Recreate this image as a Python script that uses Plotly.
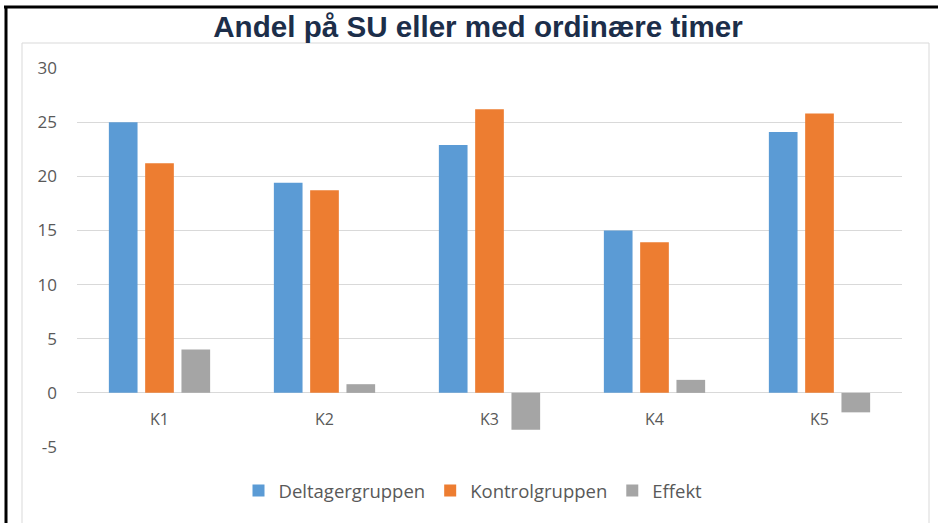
import plotly.graph_objects as go

categories = ["K1", "K2", "K3", "K4", "K5"]
deltager = [25.0, 19.4, 22.9, 15.0, 24.1]
kontrol = [21.2, 18.7, 26.2, 13.9, 25.8]
effekt = [4.0, 0.8, -3.4, 1.2, -1.8]
series_names = ["Deltagergruppen", "Kontrolgruppen", "Effekt"]
ytick_vals = [-5, 0, 5, 10, 15, 20, 25, 30]
ytick_text = ["-5", "0", "5", "10", "15", "20", "25", "30"]
title_text = "Andel på SU eller med ordinære timer"

W, H = 938, 523
L, R, T, B = 77, 36, 68, 76
PW, PH = W - L - R, H - T - B

def px(x):
    return (x - L) / PW

def py(y):
    return (H - B - y) / PH

colors = ["#5B9BD5", "#ED7D31", "#A5A5A5"]
font_fam = "Open Sans, Lato, sans-serif"
txt_col = "#595959"

fig = go.Figure()
for name, vals, col in zip(series_names, [deltager, kontrol, effekt], colors):
    fig.add_trace(go.Bar(x=categories, y=vals, name=name, marker=dict(color=col, line=dict(width=0))))

annotations = []
for c in categories:
    annotations.append(dict(x=c, y=0, xref="x", yref="y", text=c, showarrow=False,
                            yanchor="top", yshift=-13,
                            font=dict(family=font_fam, size=16, color=txt_col)))

shapes = [
    dict(type="rect", xref="paper", yref="paper", x0=px(22), x1=px(929), y0=py(530), y1=py(43),
         line=dict(color="#D9D9D9", width=1), fillcolor="rgba(0,0,0,0)", layer="below"),
    dict(type="line", xref="paper", yref="paper", x0=px(4), x1=px(940), y0=py(7), y1=py(7),
         line=dict(color="black", width=3)),
    dict(type="line", xref="paper", yref="paper", x0=px(6), x1=px(6), y0=py(6), y1=py(530),
         line=dict(color="black", width=3)),
]

fig.update_layout(
    width=W, height=H,
    margin=dict(l=L, r=R, t=T, b=B, pad=0),
    paper_bgcolor="white", plot_bgcolor="white",
    barmode="group", bargap=0.34, bargroupgap=0.21,
    title=dict(text="<b>" + title_text + "</b>", xref="container", yref="container",
               x=0.5096, y=1 - 27 / H, xanchor="center", yanchor="middle",
               font=dict(family="Liberation Sans, Arial, sans-serif", size=29.6, color="#1C2E4A")),
    xaxis=dict(showticklabels=False, showgrid=False, zeroline=False, showline=False, ticks=""),
    yaxis=dict(range=[-5, 30], tickvals=ytick_vals, ticktext=ytick_text,
               showgrid=True, gridcolor="#D9D9D9", gridwidth=1,
               zeroline=True, zerolinecolor="#D9D9D9", zerolinewidth=1,
               showline=False, ticks="", ticklabelstandoff=19,
               tickfont=dict(family=font_fam, size=17, color=txt_col)),
    legend=dict(orientation="h", x=0.48, xanchor="center", y=py(491), yanchor="middle",
                font=dict(family=font_fam, size=18.5, color=txt_col), itemwidth=30,
                traceorder="normal"),
    annotations=annotations,
    shapes=shapes,
    showlegend=True,
)

fig.write_html("out.html", config={"displayModeBar": False},
               post_script="document.body.style.margin='0';")
